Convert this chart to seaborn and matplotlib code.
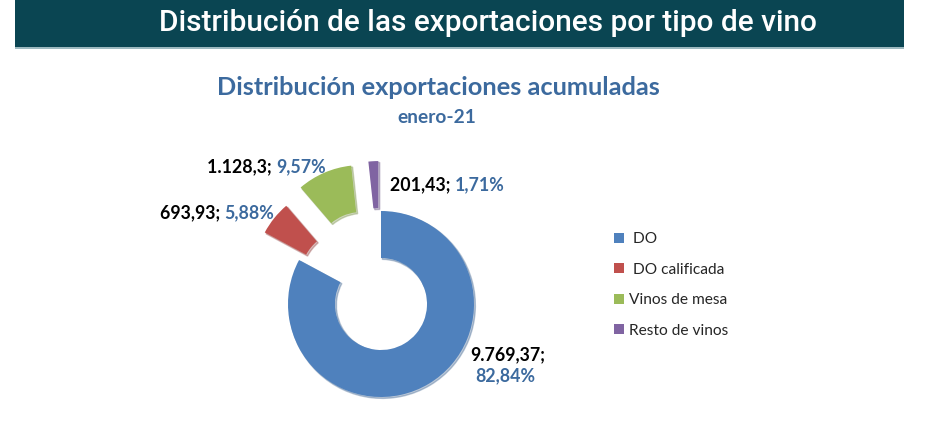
import matplotlib
matplotlib.use("Agg")
import matplotlib.pyplot as plt
import seaborn as sns
from matplotlib.patches import Rectangle

# ---- data ----
categories = ["DO", "DO calificada", "Vinos de mesa", "Resto de vinos"]
values = [9769.37, 693.93, 1128.3, 201.43]
header_title = "Distribución de las exportaciones por tipo de vino"
chart_title = "Distribución exportaciones acumuladas"
chart_subtitle = "enero-21"

colors = ["#4F81BD", "#C0504D", "#9BBB59", "#8064A2"]


def es_num(v):
    s = f"{v:,.2f}".rstrip("0").rstrip(".")
    return s.replace(",", "X").replace(".", ",").replace("X", ".")


def es_pct(p):
    return f"{p:.2f}".replace(".", ",") + "%"


total = sum(values)
pcts = [v / total * 100 for v in values]

sns.set_theme(style="white")
plt.rcParams["font.family"] = ["Lato", "DejaVu Sans"]

W, H = 946, 425
fig = plt.figure(figsize=(W / 100, H / 100), dpi=100)
ax = fig.add_axes([0, 0, 1, 1])

# header bar
ax.add_patch(Rectangle((15, H - 47), 889, 47, facecolor="#0A4552", edgecolor="none", zorder=1))
ax.add_patch(Rectangle((15, H - 48.5), 889, 1.5, facecolor="#9DB9C0", edgecolor="none", zorder=1))
ax.text(488, H - 23, header_title, color="white", fontsize=21.5, family=["Roboto", "DejaVu Sans"],
        weight="medium", ha="center", va="center", zorder=2)

ax.text(438, H - 87, chart_title, color="#3C6A9E", fontsize=18.3, weight="bold", ha="center", va="center")
ax.text(437, H - 117, chart_subtitle, color="#3C6A9E", fontsize=13.8, weight="bold", ha="center", va="center")

# donut
cx, cy, R = 381, H - 304, 93
wedges, _ = ax.pie(values, colors=colors, startangle=90, counterclock=False,
                   center=(cx, cy), radius=R, explode=[0, 44, 50, 50],
                   wedgeprops=dict(width=47, edgecolor="none"),
                   shadow=dict(ox=1.0, oy=-1.0, shade=0.25, alpha=0.35))

ax.set_xlim(0, W)
ax.set_ylim(0, H)
ax.set_aspect("equal")
ax.axis("off")

# data labels (value in black, percentage in blue)
fs = 12.8
lab_pos = [(470, H - 355, "below"), (160, H - 213, "inline"), (207, H - 167, "inline"), (390, H - 185, "inline")]
for (x, y, mode), v, p in zip(lab_pos, values, pcts):
    if mode == "below":
        ax.text(x, y, es_num(v) + ";", color="black", fontsize=fs, weight="bold", ha="left", va="center")
        ax.text(x + 5, y - 21, es_pct(p), color="#3C6A9E", fontsize=fs, weight="bold", ha="left", va="center")
    else:
        t = ax.text(x, y, es_num(v) + "; ", color="black", fontsize=fs, weight="bold", ha="left", va="center")
        ax.annotate(es_pct(p), xycoords=t, xy=(1, 0.5), va="center", ha="left",
                    color="#3C6A9E", fontsize=fs, weight="bold")

legend_labels = [" " + categories[0], " " + categories[1], categories[2], categories[3]]
ax.legend(wedges, legend_labels, loc="upper left", bbox_to_anchor=(608 / W, 1 - 226 / H),
          frameon=False, fontsize=11.2, handlelength=0.65, handleheight=0.65,
          handletextpad=0.3, labelspacing=1.06, borderaxespad=0)

fig.savefig("out.png", dpi=100)
